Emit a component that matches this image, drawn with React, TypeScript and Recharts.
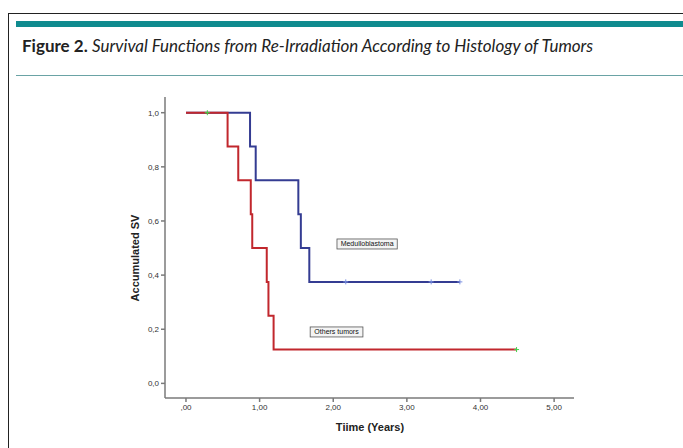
import { JSX } from "react";
import {
  LineChart,
  Line,
  XAxis,
  YAxis,
  ReferenceDot,
} from "recharts";

// Kaplan-Meier steps
const MEDULLO_TIMES = [0, 0.87, 0.947, 1.526, 1.56, 1.675, 2.17, 3.33, 3.72];
const MEDULLO_SURV = [1, 0.875, 0.75, 0.625, 0.5, 0.375, 0.375, 0.375, 0.375];
const MEDULLO_CENSORED = [false, false, false, false, false, false, true, true, true];

const OTHERS_TIMES = [0, 0.29, 0.565, 0.71, 0.88, 0.9, 1.097, 1.12, 1.19, 4.49];
const OTHERS_SURV = [1, 1, 0.875, 0.75, 0.625, 0.5, 0.375, 0.25, 0.125, 0.125];
const OTHERS_CENSORED = [false, true, false, false, false, false, false, false, false, true];

const X_TICKS = [0, 1, 2, 3, 4, 5];
const Y_TICKS = [0, 0.2, 0.4, 0.6, 0.8, 1.0];

const GROUP_LABELS = [
  { name: "Medulloblastoma", t: 2.46, s: 0.515 },
  { name: "Others tumors", t: 2.045, s: 0.19 },
];

const X_DOMAIN: [number, number] = [-0.285, 5.27];
const Y_DOMAIN: [number, number] = [-0.054, 1.058];

type Point = { t: number; s: number; censored: boolean };

function toPoints(times: number[], surv: number[], censored: boolean[]): Point[] {
  return times.map((t, i) => ({ t, s: surv[i], censored: censored[i] }));
}

const medulloData = toPoints(MEDULLO_TIMES, MEDULLO_SURV, MEDULLO_CENSORED);
const othersData = toPoints(OTHERS_TIMES, OTHERS_SURV, OTHERS_CENSORED);

const fmtX = (v: number) => (v === 0 ? ",00" : v.toFixed(2).replace(".", ","));
const fmtY = (v: number) => v.toFixed(1).replace(".", ",");

function censorDot(color: string) {
  return (props: any) => {
    const { cx, cy, payload, index } = props;
    if (!payload?.censored) return <g key={index} />;
    return (
      <g key={index}>
        <line x1={cx - 2.5} x2={cx + 2.5} y1={cy} y2={cy} stroke={color} strokeWidth={1} />
        <line x1={cx} x2={cx} y1={cy - 2.5} y2={cy + 2.5} stroke={color} strokeWidth={1} />
      </g>
    );
  };
}

function LabelBox(props: any): JSX.Element {
  const { cx, cy, text } = props;
  const w = text.length * 3.75 + 4;
  return (
    <g>
      <rect x={cx - w / 2} y={cy - 5} width={w} height={10} fill="#f4f4f4" stroke="#555" strokeWidth={0.8} />
      <text x={cx} y={cy + 2.5} textAnchor="middle" fontSize={7} fontFamily="Liberation Sans, Arial" fill="#111">
        {text}
      </text>
    </g>
  );
}

const FRAME = "#7a7a7a";
const TICK_STYLE = { fontSize: 8, fill: "#333", fontFamily: "Liberation Sans, Arial" };

export default function App(): JSX.Element {
  return (
    <div style={{ position: "relative", width: 683, height: 448, overflow: "hidden", background: "#fff" }}>
      <style>{`body{margin:0}`}</style>
      <div style={{ position: "absolute", left: 8, top: 13, width: 700, height: 460, border: "1px solid #222" }} />
      <div style={{ position: "absolute", left: 16, top: 21, width: 680, height: 6, background: "#0f8b8f" }} />
      <div
        style={{
          position: "absolute",
          left: 22,
          top: 35,
          fontFamily: "Lato, sans-serif",
          fontSize: 17,
          color: "#222",
          whiteSpace: "nowrap",
        }}
      >
        <b>Figure 2.</b> <i>Survival Functions from Re-Irradiation According to Histology of Tumors</i>
      </div>
      <div style={{ position: "absolute", left: 16, top: 75, width: 680, height: 1, background: "#6aa3a5" }} />

      <div style={{ position: "absolute", left: 0, top: 0 }}>
        <LineChart width={683} height={448} margin={{ top: 97, left: 125, right: 109, bottom: 20 }}>
          <XAxis
            type="number"
            dataKey="t"
            domain={X_DOMAIN}
            ticks={X_TICKS}
            tickFormatter={fmtX}
            allowDataOverflow
            height={30}
            stroke={FRAME}
            strokeWidth={1.5}
            tickSize={4}
            tick={TICK_STYLE}
          />
          <XAxis
            xAxisId="top"
            orientation="top"
            type="number"
            domain={X_DOMAIN}
            allowDataOverflow
            height={0}
            tick={false}
            tickLine={false}
            stroke={FRAME}
            strokeWidth={1.5}
          />
          <YAxis
            type="number"
            dataKey="s"
            domain={Y_DOMAIN}
            ticks={Y_TICKS}
            tickFormatter={fmtY}
            allowDataOverflow
            width={40}
            stroke={FRAME}
            strokeWidth={1.5}
            tickSize={4}
            tick={TICK_STYLE}
          />
          <YAxis
            yAxisId="right"
            orientation="right"
            type="number"
            domain={Y_DOMAIN}
            allowDataOverflow
            width={0}
            tick={false}
            tickLine={false}
            stroke={FRAME}
            strokeWidth={1.5}
          />
          <Line
            data={medulloData}
            dataKey="s"
            type="stepAfter"
            stroke="#343c92"
            strokeWidth={2}
            dot={censorDot("#7a8fe0")}
            activeDot={false}
            isAnimationActive={false}
          />
          <Line
            data={othersData}
            dataKey="s"
            type="stepAfter"
            stroke="#c1272d"
            strokeWidth={2}
            dot={censorDot("#3fd24a")}
            activeDot={false}
            isAnimationActive={false}
          />
          {GROUP_LABELS.map((g) => (
            <ReferenceDot
              key={g.name}
              x={g.t}
              y={g.s}
              r={0}
              shape={(p: any) => <LabelBox cx={p.cx} cy={p.cy} text={g.name} />}
            />
          ))}
        </LineChart>
      </div>

      <div
        style={{
          position: "absolute",
          left: 135,
          top: 258,
          transform: "translate(-50%, -50%) rotate(-90deg)",
          fontFamily: "Liberation Sans, Arial",
          fontWeight: "bold",
          fontSize: 11,
          color: "#222",
          whiteSpace: "nowrap",
        }}
      >
        Accumulated SV
      </div>
      <div
        style={{
          position: "absolute",
          left: 370,
          top: 427,
          transform: "translate(-50%, -50%)",
          fontFamily: "Liberation Sans, Arial",
          fontWeight: "bold",
          fontSize: 11,
          color: "#222",
          whiteSpace: "nowrap",
        }}
      >
        Tiime (Years)
      </div>
    </div>
  );
}
